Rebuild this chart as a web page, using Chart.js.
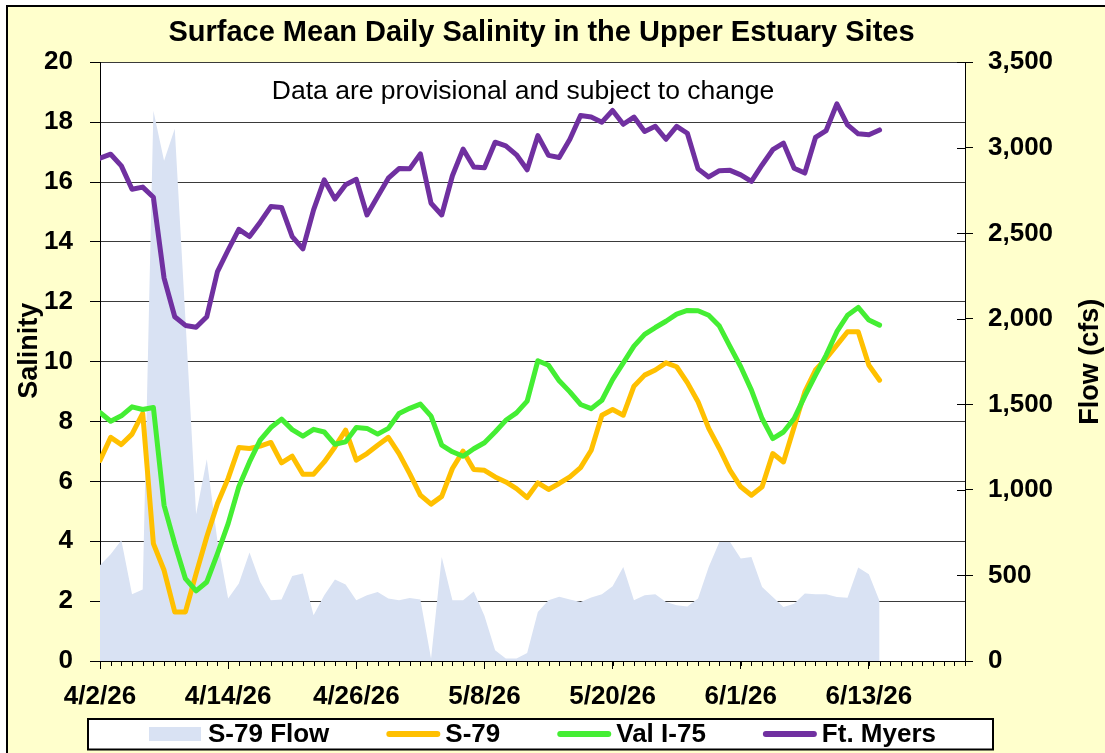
<!DOCTYPE html>
<html>
<head>
<meta charset="utf-8">
<title>Surface Mean Daily Salinity</title>
<script src="https://cdn.jsdelivr.net/npm/chart.js@4/dist/chart.umd.min.js"></script>
<style>
  html, body { margin: 0; padding: 0; background: #fff; }
  #caixa { width: 1105px; height: 753px; }
</style>
</head>
<body>
<div id="caixa"><canvas id="graficoSalinidade" width="1105" height="753"></canvas></div>
<script>
// Dados (um valor por dia, a partir de 4/2/26)
const tickLabels = ['4/2/26', '4/14/26', '4/26/26', '5/8/26', '5/20/26', '6/1/26', '6/13/26'];
const daysOnAxis = 81; // eixo vai de 4/2/26 até 6/22/26

const s79Flow = [560, 624, 706, 390, 418, 3217, 2924, 3112, 2000, 858,
  1180, 700, 365, 453, 634, 462, 355, 359, 497, 511,
  267, 384, 476, 447, 355, 384, 404, 365, 355, 369,
  359, 14, 608, 355, 355, 407, 265, 63, 14, 14,
  47, 287, 355, 375, 359, 345, 371, 390, 437, 550,
  355, 384, 390, 345, 326, 318, 365, 550, 696, 696,
  599, 608, 433, 374, 316, 335, 394, 390, 390, 374,
  370, 546, 507, 351];

const s79 = [6.70, 7.47, 7.23, 7.58, 8.27, 3.92, 3.03, 1.64, 1.64, 2.92,
  4.15, 5.26, 6.10, 7.13, 7.10, 7.18, 7.30, 6.62, 6.84, 6.24,
  6.24, 6.65, 7.15, 7.71, 6.71, 6.93, 7.21, 7.47, 6.93, 6.26,
  5.54, 5.24, 5.50, 6.43, 7.01, 6.40, 6.37, 6.15, 5.98, 5.76,
  5.46, 5.95, 5.73, 5.93, 6.15, 6.46, 7.04, 8.21, 8.40, 8.21,
  9.18, 9.55, 9.72, 9.96, 9.83, 9.30, 8.66, 7.77, 7.10, 6.37,
  5.82, 5.54, 5.82, 6.93, 6.65, 7.82, 8.99, 9.72, 10.11, 10.55,
  11.00, 11.00, 9.88, 9.38];

const valI75 = [8.30, 8.01, 8.19, 8.49, 8.40, 8.47, 5.20, 3.92, 2.75, 2.34,
  2.64, 3.59, 4.59, 5.82, 6.65, 7.38, 7.80, 8.08, 7.73, 7.51,
  7.74, 7.65, 7.24, 7.32, 7.80, 7.77, 7.58, 7.77, 8.27, 8.44,
  8.58, 8.18, 7.21, 6.99, 6.84, 7.09, 7.29, 7.65, 8.04, 8.29,
  8.68, 10.03, 9.88, 9.36, 8.99, 8.57, 8.43, 8.71, 9.40, 9.96,
  10.52, 10.91, 11.14, 11.35, 11.59, 11.71, 11.70, 11.55, 11.19, 10.50,
  9.83, 9.05, 8.10, 7.43, 7.65, 8.10, 8.85, 9.55, 10.22, 11.00,
  11.55, 11.81, 11.39, 11.22];

const ftMyers = [16.80, 16.93, 16.54, 15.76, 15.83, 15.49, 12.79, 11.50, 11.21, 11.15,
  11.50, 13.01, 13.73, 14.42, 14.18, 14.66, 15.18, 15.15, 14.18, 13.77,
  15.07, 16.07, 15.43, 15.91, 16.09, 14.90, 15.52, 16.13, 16.45, 16.44,
  16.94, 15.29, 14.90, 16.21, 17.10, 16.50, 16.48, 17.33, 17.21, 16.91,
  16.41, 17.55, 16.89, 16.82, 17.43, 18.22, 18.17, 18.00, 18.39, 17.93,
  18.17, 17.69, 17.86, 17.43, 17.86, 17.63, 16.44, 16.17, 16.38, 16.39,
  16.24, 16.02, 16.57, 17.08, 17.30, 16.46, 16.30, 17.49, 17.72, 18.61,
  17.91, 17.61, 17.58, 17.74];

const titulo = 'Surface Mean Daily Salinity in the Upper Estuary Sites';
const aviso = 'Data are provisional and subject to change';
const tituloY = 'Salinity';
const tituloY1 = 'Flow (cfs)';

const fonte = '"Liberation Sans", Arial, sans-serif';
Chart.defaults.font.family = fonte;
Chart.defaults.color = '#000';

const pontos = arr => arr.map((v, i) => ({ x: i, y: v }));

// Fundo amarelo, moldura, área branca, legenda com borda e textos extras
const fundo = {
  id: 'fundo',
  beforeDraw(chart) {
    const { ctx, chartArea: a, width, height } = chart;
    ctx.save();
    ctx.fillStyle = '#ffffff';
    ctx.fillRect(0, 0, width, height);
    ctx.fillStyle = '#FFFFCC';
    ctx.fillRect(7, 6, width, height);
    ctx.strokeStyle = '#000';
    ctx.lineWidth = 2;
    ctx.beginPath();
    ctx.moveTo(7, height + 5);
    ctx.lineTo(7, 6);
    ctx.lineTo(width + 5, 6);
    ctx.stroke();
    ctx.fillStyle = '#ffffff';
    ctx.fillRect(a.left, a.top, a.right - a.left, a.bottom - a.top);
    ctx.restore();
  },
  afterDraw(chart) {
    const { ctx, chartArea: a, scales } = chart;
    ctx.save();
    ctx.strokeStyle = '#000';
    ctx.lineWidth = 1;
    ctx.beginPath();
    // marcas diárias pequenas no eixo X
    for (let d = 0; d <= daysOnAxis; d++) {
      const px = Math.round(scales.x.getPixelForValue(d)) + 0.5;
      ctx.moveTo(px, a.bottom);
      ctx.lineTo(px, a.bottom + 5);
    }
    // marcas internas do eixo da direita
    scales.y1.ticks.forEach(t => {
      const py = Math.round(scales.y1.getPixelForValue(t.value)) + 0.5;
      ctx.moveTo(a.right - 8, py);
      ctx.lineTo(a.right, py);
    });
    ctx.stroke();

    ctx.fillStyle = '#000';
    ctx.font = '26.5px ' + fonte;
    ctx.textAlign = 'center';
    ctx.textBaseline = 'alphabetic';
    ctx.fillText(aviso, a.left + 423, a.top + 37);

    // títulos dos eixos
    ctx.font = 'bold 27px ' + fonte;
    ctx.textBaseline = 'middle';
    ctx.save();
    ctx.translate(30, (a.top + a.bottom) / 2 - 11);
    ctx.rotate(-Math.PI / 2);
    ctx.fillText(tituloY, 0, 0);
    ctx.restore();
    ctx.save();
    ctx.translate(1091, (a.top + a.bottom) / 2);
    ctx.rotate(-Math.PI / 2);
    ctx.fillText(tituloY1, 0, 0);
    ctx.restore();

    // legenda com borda
    const bx0 = a.left - 12, bx1 = a.right + 28;
    const cy = a.bottom + 73;
    ctx.fillStyle = '#ffffff';
    ctx.lineWidth = 2;
    ctx.fillRect(bx0, cy - 15, bx1 - bx0, 30.5);
    ctx.strokeRect(bx0, cy - 15, bx1 - bx0, 30.5);
    ctx.font = 'bold 26px ' + fonte;
    ctx.textAlign = 'left';
    const swatch = 54, gapText = 5, gapItem = 57;
    const itens = chart.data.datasets.map(ds => ({ ds, w: ctx.measureText(ds.label).width }));
    const total = itens.reduce((s, it) => s + swatch + gapText + it.w, 0) + gapItem * (itens.length - 1);
    let x = (bx0 + bx1) / 2 + 2 - total / 2;
    itens.forEach(({ ds, w }) => {
      if (ds.fill) {
        ctx.fillStyle = ds.backgroundColor;
        ctx.fillRect(x, cy - 7, swatch - 2, 14);
      } else {
        ctx.strokeStyle = ds.borderColor;
        ctx.lineWidth = 6;
        ctx.lineCap = 'round';
        ctx.beginPath();
        ctx.moveTo(x + 3, cy);
        ctx.lineTo(x + swatch - 3, cy);
        ctx.stroke();
      }
      ctx.fillStyle = '#000';
      ctx.fillText(ds.label, x + swatch + gapText, cy + 1);
      x += swatch + gapText + w + gapItem;
    });
    ctx.restore();
  }
};

const ctx = document.getElementById('graficoSalinidade').getContext('2d');

new Chart(ctx, {
  type: 'line',
  data: {
    datasets: [
      {
        label: 'S-79 Flow',
        data: pontos(s79Flow),
        yAxisID: 'y1',
        fill: 'origin',
        backgroundColor: '#D9E2F3',
        borderColor: '#D9E2F3',
        borderWidth: 0,
        pointRadius: 0,
        tension: 0,
        order: 4
      },
      {
        label: 'S-79',
        data: pontos(s79),
        yAxisID: 'y',
        borderColor: '#FFC000',
        backgroundColor: '#FFC000',
        borderWidth: 5,
        borderCapStyle: 'round',
        borderJoinStyle: 'round',
        pointRadius: 0,
        tension: 0,
        order: 3
      },
      {
        label: 'Val I-75',
        data: pontos(valI75),
        yAxisID: 'y',
        borderColor: '#44EE33',
        backgroundColor: '#44EE33',
        borderWidth: 5,
        borderCapStyle: 'round',
        borderJoinStyle: 'round',
        pointRadius: 0,
        tension: 0,
        order: 2
      },
      {
        label: 'Ft. Myers',
        data: pontos(ftMyers),
        yAxisID: 'y',
        borderColor: '#7030A0',
        backgroundColor: '#7030A0',
        borderWidth: 5,
        borderCapStyle: 'round',
        borderJoinStyle: 'round',
        pointRadius: 0,
        tension: 0,
        order: 1
      }
    ]
  },
  options: {
    responsive: false,
    animation: false,
    devicePixelRatio: 1,
    layout: { padding: { left: 0, right: 22, top: 0, bottom: 32 } },
    plugins: {
      title: {
        display: true,
        text: titulo,
        color: '#000',
        font: { size: 29, weight: 'bold' },
        padding: { top: 15.5, bottom: 12 }
      },
      legend: { display: false },
      tooltip: { enabled: false }
    },
    scales: {
      x: {
        type: 'linear',
        min: 0,
        max: daysOnAxis,
        afterFit: s => { s.height = 60; },
        ticks: {
          stepSize: 1,
          autoSkip: false,
          maxRotation: 0,
          minRotation: 0,
          padding: 12,
          color: '#000',
          font: { size: 26, weight: 'bold' },
          callback: v => (v % 12 === 0 ? tickLabels[v / 12] : '')
        },
        grid: {
          drawOnChartArea: false,
          tickLength: 8,
          color: c => (c.index % 12 === 0 ? '#000' : 'rgba(0,0,0,0)')
        },
        border: { color: '#000', width: 1 }
      },
      y: {
        position: 'left',
        min: 0,
        max: 20,
        afterFit: s => { s.width = 100; },
        ticks: {
          stepSize: 2,
          padding: 17,
          color: '#000',
          font: { size: 26, weight: 'bold' }
        },
        grid: { color: '#3a3a3a', tickColor: '#000', tickLength: 10 },
        border: { color: '#000', width: 1 }
      },
      y1: {
        position: 'right',
        min: 0,
        max: 3500,
        afterFit: s => { s.width = 118; },
        ticks: {
          stepSize: 500,
          padding: 15,
          color: '#000',
          font: { size: 26, weight: 'bold' },
          callback: v => v.toLocaleString('en-US')
        },
        grid: { drawOnChartArea: false, tickLength: 8, color: '#000' },
        border: { color: '#000', width: 1 }
      }
    }
  },
  plugins: [fundo]
});
</script>
</body>
</html>
